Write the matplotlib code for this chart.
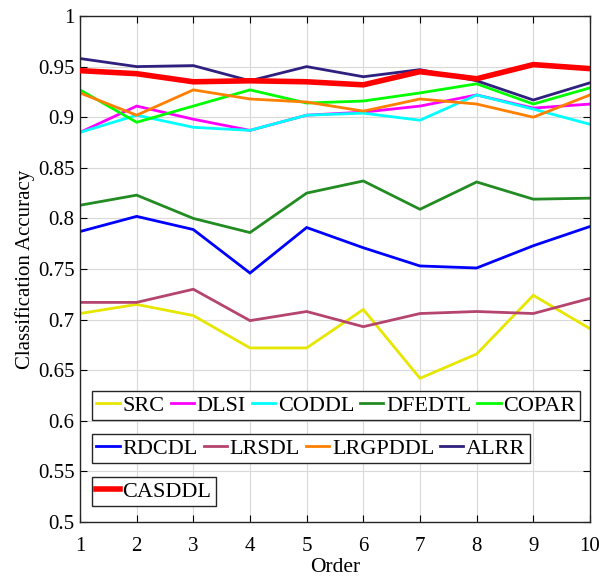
import numpy as np
import matplotlib.pyplot as plt

# Classification accuracy vs. order
order = np.arange(1, 11)

names = ['SRC', 'DLSI', 'CODDL', 'DFEDTL', 'COPAR',
         'RDCDL', 'LRSDL', 'LRGPDDL', 'ALRR', 'CASDDL']

src     = [0.706, 0.715, 0.704, 0.672, 0.672, 0.710, 0.642, 0.666, 0.724, 0.691]
dlsi    = [0.885, 0.911, 0.898, 0.887, 0.902, 0.905, 0.911, 0.922, 0.909, 0.913]
coddl   = [0.885, 0.902, 0.890, 0.887, 0.902, 0.904, 0.897, 0.922, 0.908, 0.893]
dfedtl  = [0.813, 0.823, 0.800, 0.786, 0.825, 0.837, 0.809, 0.836, 0.819, 0.820]
copar   = [0.927, 0.895, 0.911, 0.927, 0.914, 0.916, 0.924, 0.933, 0.913, 0.929]
rdcdl   = [0.787, 0.802, 0.789, 0.746, 0.791, 0.771, 0.753, 0.751, 0.773, 0.792]
lrsdl   = [0.717, 0.717, 0.730, 0.699, 0.708, 0.693, 0.706, 0.708, 0.706, 0.721]
lrgpddl = [0.924, 0.902, 0.927, 0.918, 0.915, 0.906, 0.918, 0.913, 0.900, 0.922]
alrr    = [0.958, 0.950, 0.951, 0.936, 0.950, 0.940, 0.947, 0.936, 0.917, 0.934]
casddl  = [0.946, 0.943, 0.935, 0.936, 0.935, 0.932, 0.945, 0.938, 0.952, 0.948]

series = [src, dlsi, coddl, dfedtl, copar, rdcdl, lrsdl, lrgpddl, alrr, casddl]
colors = ['#E6E600', '#FF00FF', '#00FFFF', '#228B22', '#00FF00',
          '#0000FF', '#B5446E', '#FF8000', '#2F1F7F', '#FF0000']

plt.rcParams['font.family'] = ['Liberation Serif', 'DejaVu Serif']

fig = plt.figure(figsize=(6, 5.78), dpi=100)
ax = fig.add_axes([0.1333, 0.0969, 0.85, 0.8754])

lines = []
for name, vals, c in zip(names, series, colors):
    lw = 4.0 if name == 'CASDDL' else 2.0
    ln, = ax.plot(order, vals, color=c, lw=lw, label=name,
                  solid_joinstyle='miter', zorder=3 if name == 'CASDDL' else 2)
    lines.append(ln)

ax.set_xlim(1, 10)
ax.set_ylim(0.5, 1)
ax.set_xticks(order)
ax.set_yticks(np.arange(0.5, 1.001, 0.05))
ax.set_yticklabels(['0.5', '0.55', '0.6', '0.65', '0.7', '0.75',
                    '0.8', '0.85', '0.9', '0.95', '1'])
ax.tick_params(direction='in', top=True, right=True, labelsize=15,
               length=5, width=0.8, pad=4)
ax.tick_params(axis='x', pad=11)
ax.grid(True, color='#d9d9d9', lw=0.8)
ax.set_axisbelow(True)
for s in ax.spines.values():
    s.set_linewidth(1.0)
    s.set_color('#262626')

ax.set_xlabel('Order', fontsize=15.5, labelpad=1)
ax.set_ylabel('Classification Accuracy', fontsize=15, labelpad=2)

leg_kw = dict(loc='upper left', fontsize=16, handlelength=1.05,
              handletextpad=0.12, columnspacing=0.27, borderpad=0.2,
              borderaxespad=0, fancybox=False, framealpha=1,
              edgecolor='#262626', labelspacing=0.2)

leg1 = ax.legend(lines[0:5], names[0:5], ncol=5,
                 bbox_to_anchor=(0.0235, 0.259), **leg_kw)
ax.add_artist(leg1)
leg2 = ax.legend(lines[5:9], names[5:9], ncol=4,
                 bbox_to_anchor=(0.0235, 0.174), **leg_kw)
ax.add_artist(leg2)
leg3 = ax.legend(lines[9:], names[9:], ncol=1,
                 bbox_to_anchor=(0.0235, 0.089), **leg_kw)
for lg in (leg1, leg2, leg3):
    lg.get_frame().set_linewidth(1.0)

fig.savefig('out.png', dpi=100)
